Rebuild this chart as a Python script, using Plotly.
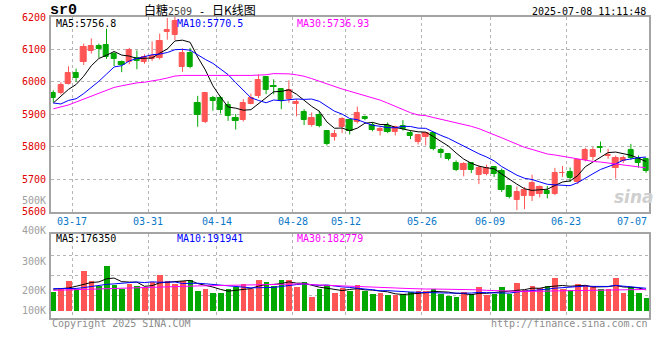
import plotly.graph_objects as go

# ---------------- data ----------------
dates = ["03-13", "03-14",
         "03-17", "03-18", "03-19", "03-20", "03-21",
         "03-24", "03-25", "03-26", "03-27", "03-28",
         "03-31", "04-01", "04-02", "04-03",
         "04-07", "04-08", "04-09", "04-10", "04-11",
         "04-14", "04-15", "04-16", "04-17", "04-18",
         "04-21", "04-22", "04-23", "04-24", "04-25",
         "04-28", "04-29", "04-30",
         "05-06", "05-07", "05-08", "05-09",
         "05-12", "05-13", "05-14", "05-15", "05-16",
         "05-19", "05-20", "05-21", "05-22", "05-23",
         "05-26", "05-27", "05-28", "05-29", "05-30",
         "06-03", "06-04", "06-05", "06-06",
         "06-09", "06-10", "06-11", "06-12", "06-13",
         "06-16", "06-17", "06-18", "06-19", "06-20",
         "06-23", "06-24", "06-25", "06-26", "06-27",
         "06-30", "07-01", "07-02", "07-03", "07-04",
         "07-07", "07-08"]

opens = [5965, 5965, 5995, 6028, 6061, 6095, 6112, 6115, 6085, 6061,
         6061, 6074, 6061, 6072, 6074, 6153, 6145, 6046, 6088, 5934,
         5877, 5950, 5950, 5928, 5889, 5884, 5931, 5957, 6016, 5987,
         5977, 5946, 5932, 5906, 5867, 5898, 5848, 5829, 5860, 5882,
         5877, 5892, 5867, 5848, 5865, 5847, 5863, 5842, 5816, 5829,
         5842, 5789, 5778, 5751, 5730, 5751, 5712, 5715, 5738, 5725,
         5678, 5636, 5648, 5648, 5656, 5663, 5656, 5718, 5722, 5692,
         5758, 5768, 5799, 5772, 5736, 5756, 5791, 5761, 5761]
highs = [5974, 5999, 6048, 6041, 6118, 6134, 6118, 6164, 6092, 6066,
         6105, 6097, 6085, 6125, 6149, 6197, 6200, 6103, 6105, 5957,
         5969, 5957, 5957, 5940, 5901, 5947, 5964, 6023, 6018, 6008,
         5980, 6005, 5947, 5916, 5906, 5911, 5850, 5852, 5891, 5884,
         5924, 5896, 5875, 5863, 5875, 5865, 5882, 5850, 5840, 5845,
         5845, 5797, 5779, 5758, 5753, 5753, 5743, 5745, 5740, 5733,
         5680, 5678, 5676, 5714, 5681, 5679, 5735, 5741, 5736, 5760,
         5797, 5799, 5816, 5794, 5773, 5773, 5809, 5773, 5766]
lows = [5937, 5961, 5992, 6000, 6052, 6087, 6074, 6071, 6049, 6030,
        6054, 6039, 6056, 6064, 6069, 6130, 6129, 6031, 6042, 5862,
        5873, 5911, 5903, 5880, 5853, 5878, 5931, 5950, 5962, 5962,
        5916, 5936, 5894, 5867, 5862, 5860, 5804, 5819, 5842, 5838,
        5872, 5882, 5848, 5835, 5842, 5835, 5850, 5824, 5807, 5804,
        5789, 5766, 5758, 5725, 5709, 5719, 5685, 5712, 5707, 5661,
        5641, 5605, 5608, 5633, 5644, 5641, 5651, 5707, 5692, 5685,
        5755, 5758, 5782, 5763, 5702, 5750, 5760, 5736, 5720]
closes = [5950, 5989, 6028, 6012, 6108, 6112, 6101, 6077, 6071, 6052,
          6097, 6064, 6076, 6079, 6127, 6161, 6188, 6088, 6046, 5899,
          5965, 5942, 5914, 5894, 5880, 5934, 5950, 6005, 5974, 5985,
          5940, 5974, 5937, 5883, 5889, 5865, 5809, 5840, 5886, 5848,
          5904, 5885, 5853, 5854, 5847, 5860, 5855, 5834, 5835, 5842,
          5792, 5780, 5761, 5730, 5748, 5727, 5736, 5736, 5715, 5666,
          5646, 5661, 5666, 5689, 5676, 5654, 5719, 5720, 5705, 5758,
          5791, 5791, 5797, 5774, 5766, 5766, 5766, 5751, 5724]
volumes = [158000, 181000, 247000, 181000, 331000, 247000, 206000, 375000, 214000, 181000,
           228000, 206000, 200000, 242000, 297000, 247000, 228000, 247000, 256000, 164000,
           181000, 150000, 150000, 181000, 200000, 222000, 181000, 256000, 242000, 206000,
           256000, 256000, 200000, 239000, 117000, 181000, 214000, 147000, 192000, 164000,
           214000, 164000, 139000, 150000, 131000, 131000, 139000, 158000, 167000, 167000,
           186000, 139000, 128000, 114000, 158000, 139000, 197000, 131000, 144000, 197000,
           144000, 233000, 172000, 206000, 192000, 206000, 275000, 186000, 172000, 222000,
           214000, 206000, 186000, 186000, 275000, 147000, 200000, 150000, 108000]

# moving-average values before a full window exists
ma5_head = [5935, 5956, 5977, 5992]
ma10_head = [5935, 5932, 5943, 5948, 5964, 5982, 6002, 6024, 6046]
ma30_head = [5917, 5922, 5929, 5938, 5947, 5957, 5967, 5976, 5983, 5988,
             5993, 5997, 5999, 6002, 6007, 6012, 6018, 6020, 6020, 6019,
             6019, 6019, 6018, 6018, 6018, 6019, 6020, 6021, 6022]
vma5_head = [181000, 186000, 192000, 206000]
vma10_head = [186000, 186000, 186000, 188000, 195000, 205000, 212000, 222000, 226000]
vma30_head = [172000, 174000, 176000, 178000, 181000, 184000, 187000, 190000, 193000, 195000,
              197000, 199000, 200000, 202000, 203000, 205000, 206000, 207000, 208000, 209000,
              210000, 211000, 211000, 212000, 213000, 214000, 215000, 216000, 217000]

price_ticks = [5600, 5700, 5800, 5900, 6000, 6100, 6200]
date_ticks = ["03-17", "03-31", "04-14", "04-28", "05-12", "05-26", "06-09", "06-23", "07-07"]
vol_tick_labels = ["500K", "400K", "300K", "200K", "100K"]

title_parts = ["白糖", "2509", " - ", "日K线图"]
symbol_text = "sr0"
stamp_text = "2025-07-08 11:11:48"
price_ma_labels = ["MA5:5756.8", "MA10:5770.5", "MA30:5736.93"]
vol_ma_labels = ["MA5:176350", "MA10:191941", "MA30:182779"]

# ---------------- helpers ----------------
def rolling(vals, n, head):
    out = []
    for i in range(len(vals)):
        if i >= n - 1:
            out.append(sum(vals[i - n + 1:i + 1]) / n)
        else:
            out.append(head[i])
    return out

W, H = 660, 360
def fx(p):
    return p / W
def fy(p):
    return 1 - p / H

RED = "#ff5555"
GREEN = "#00a800"
MA_COLORS = ["#000000", "#0000ff", "#ff00ff"]
GRID = "#b4b4b4"
FRAME = "#a4a4a4"
MONO = "DejaVu Sans Mono, Liberation Mono, monospace"
CJK = "Noto Sans CJK SC, sans-serif"

n = len(dates)
idx = list(range(n))
up = [c >= o for o, c in zip(opens, closes)]
colors = [RED if u else GREEN for u in up]

ma5 = rolling(closes, 5, ma5_head)
ma10 = rolling(closes, 10, ma10_head)
ma30 = rolling(closes, 30, ma30_head)
vma5 = rolling(volumes, 5, vma5_head)
vma10 = rolling(volumes, 10, vma10_head)
vma30 = rolling(volumes, 30, vma30_head)

# pixel layout
X0, X1 = 50.7, 649.3
C0, STEP = 53.3, 7.6
xr = [(X0 - C0) / STEP, (X1 - C0) / STEP]
MAIN_TOP, MAIN_BOT = 17, 211.7
VOL_TOP, VOL_BOT, VOL_BASE, VOL_PX = 234, 318, 311, 12.0  # px per 100K
vr = [-(VOL_BOT - VOL_BASE) / VOL_PX * 1e5, (VOL_BASE - VOL_TOP) / VOL_PX * 1e5]

grid_pos = [dates.index(d) + 0.5 for d in date_ticks]

fig = go.Figure()

# wicks
for flag, col in ((True, RED), (False, GREEN)):
    wx, wy = [], []
    for i in idx:
        if up[i] == flag:
            wx += [i, i, None]
            wy += [lows[i], highs[i], None]
    fig.add_trace(go.Scatter(x=wx, y=wy, mode="lines", line=dict(color=col, width=1),
                             xaxis="x", yaxis="y", hoverinfo="skip", showlegend=False))

# bodies
fig.add_trace(go.Bar(x=idx, base=[min(o, c) for o, c in zip(opens, closes)],
                     y=[abs(c - o) for o, c in zip(opens, closes)],
                     width=0.68, marker=dict(color=colors, line=dict(color=colors, width=1)),
                     xaxis="x", yaxis="y", hoverinfo="skip", showlegend=False))

for vals, col in zip((ma5, ma10, ma30), MA_COLORS):
    fig.add_trace(go.Scatter(x=idx, y=vals, mode="lines", line=dict(color=col, width=1),
                             xaxis="x", yaxis="y", hoverinfo="skip", showlegend=False))

# volume
fig.add_trace(go.Bar(x=idx, y=volumes, width=0.74, marker=dict(color=colors, line=dict(width=0)),
                     xaxis="x2", yaxis="y2", hoverinfo="skip", showlegend=False))
for vals, col in zip((vma5, vma10, vma30), MA_COLORS):
    fig.add_trace(go.Scatter(x=idx, y=vals, mode="lines", line=dict(color=col, width=1),
                             xaxis="x2", yaxis="y2", hoverinfo="skip", showlegend=False))

axis_common = dict(showline=True, mirror=True, linecolor=FRAME, linewidth=2, zeroline=False,
                   ticks="", showticklabels=False, showgrid=True, gridcolor=GRID, griddash="dot",
                   gridwidth=1)

fig.update_layout(
    width=W, height=H, margin=dict(l=0, r=0, t=0, b=0),
    paper_bgcolor="white", plot_bgcolor="white", hovermode=False,
    barmode="overlay", bargap=0,
    xaxis=dict(domain=[fx(X0), fx(X1)], range=xr, anchor="y", tickvals=grid_pos[:-1], **axis_common),
    yaxis=dict(domain=[fy(MAIN_BOT), fy(MAIN_TOP)], range=[price_ticks[0], price_ticks[-1]],
               anchor="x", tickvals=price_ticks, **axis_common),
    xaxis2=dict(domain=[fx(X0), fx(X1)], range=xr, anchor="y2", tickvals=grid_pos[:-1], **axis_common),
    yaxis2=dict(domain=[fy(VOL_BOT), fy(VOL_TOP)], range=vr, anchor="x2",
                tickvals=[(VOL_BASE - p) / VOL_PX * 1e5 for p in (295.7, 275, 255)], **axis_common),
)

ann = []
def text(x, y, s, color="#000", size=10, anchor="left", family=MONO, xref="paper", yref="paper"):
    ann.append(dict(x=x, y=y, xref=xref, yref=yref, text=s, showarrow=False,
                    xanchor=anchor, yanchor="middle",
                    font=dict(family=family, size=size, color=color)))

# header
text(fx(48), fy(10), "<b>" + symbol_text + "</b>", size=15, family="Liberation Mono, monospace")
title_html = ('<span style="font-family:%s;font-size:12px">%s</span>'
              '<span style="font-family:%s;font-size:10px;color:#444">%s</span>'
              '<span style="font-family:%s;font-size:11px">%s</span>'
              '<span style="font-family:%s;font-size:12px">%s</span>') % (
    CJK, title_parts[0], MONO, title_parts[1], MONO, title_parts[2], CJK, title_parts[3])
text(fx(200), fy(9.5), title_html, size=12, anchor="center", family=CJK)
text(fx(648), fy(11.5), stamp_text, anchor="right")

# MA legends
for s, col, xp in zip(price_ma_labels, MA_COLORS, (54, 175, 295)):
    text(fx(xp), fy(23.5), s, color=col)
for s, col, xp in zip(vol_ma_labels, MA_COLORS, (54, 175, 295)):
    text(fx(xp), fy(238.5), s, color=col)

# price tick labels
for p in price_ticks:
    text(fx(47.5), p, str(p), color="#e00000", anchor="right", yref="y")

# volume tick labels (drawn where the original places them)
for s, yp in zip(vol_tick_labels, (200.3, 230.5, 261.3, 290.5, 310.5)):
    text(fx(47.5), fy(yp), s, color="#a0a0a0", anchor="right")

# date labels
for d, gp in zip(date_ticks, grid_pos):
    if d == date_ticks[-1]:
        text(fx(648.5), fy(221.5), d, color="#0a78c8", anchor="right")
    else:
        text(gp, fy(221.5), d, color="#0a78c8", anchor="center", xref="x")

# footer
text(fx(50), fy(323.5), "Copyright 2025 SINA.COM", color="#8c8c8c")
text(fx(649.5), fy(323.5), "http://finance.sina.com.cn", color="#8c8c8c", anchor="right")

# watermark
text(fx(634), fy(197), "<b><i>sina</i></b>", color="#cfcfcf", size=17, anchor="center",
     family="DejaVu Sans, sans-serif")

fig.update_layout(annotations=ann)
fig.write_html("out.html", config={"displayModeBar": False},
               post_script="document.body.style.margin='0';document.body.style.padding='0';")
